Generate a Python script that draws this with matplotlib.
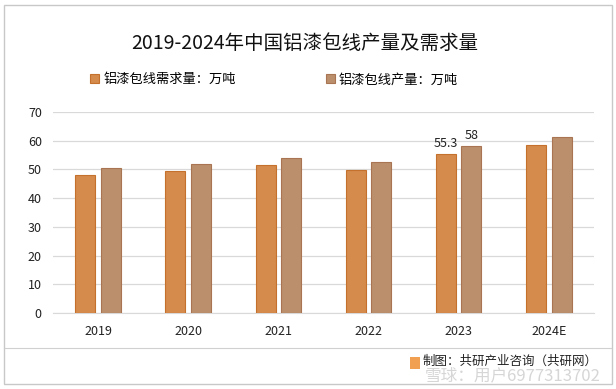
import matplotlib.pyplot as plt
import numpy as np
from matplotlib.patches import Rectangle

plt.rcParams['font.family'] = ['Noto Sans CJK SC', 'DejaVu Sans']

years = ['2019', '2020', '2021', '2022', '2023', '2024E']
demand = [48.1, 49.5, 51.5, 49.8, 55.3, 58.5]
production = [50.5, 51.9, 54.0, 52.6, 58.0, 61.3]
demand_name = '铝漆包线需求量：万吨'
production_name = '铝漆包线产量：万吨'
title = '2019-2024年中国铝漆包线产量及需求量'

fig = plt.figure(figsize=(6.16, 3.89), dpi=100)
ax = fig.add_axes([0.086, 0.1954, 0.878, 0.5166])

x = np.arange(len(years))
w = 0.222
off = 0.1415
b1 = ax.bar(x - off, demand, w, color='#D58B4C', edgecolor='#C4712E', linewidth=0.8,
            label=demand_name, zorder=3)
b2 = ax.bar(x + off, production, w, color='#BC8F6C', edgecolor='#A87451', linewidth=0.8,
            label=production_name, zorder=3)

# only 2023 values are labelled in the source
i = years.index('2023')
ax.text(x[i] - off, demand[i] + 1.6, f'{demand[i]:g}', ha='center', va='bottom', fontsize=9, color='#222222')
ax.text(x[i] + off, production[i] + 1.6, f'{production[i]:g}', ha='center', va='bottom', fontsize=9, color='#222222')

ax.set_xlim(-0.5, len(years) - 0.5)
ax.set_ylim(0, 70)
ax.set_yticks(range(0, 71, 10))
ax.set_xticks(x)
ax.set_xticklabels(years)
ax.grid(axis='y', color='#D9D9D9', linewidth=0.9, zorder=0)
for s in ['top', 'right', 'left']:
    ax.spines[s].set_visible(False)
ax.spines['bottom'].set_color('#D9D9D9')
ax.tick_params(axis='both', length=0, labelsize=9, colors='#222222')
ax.tick_params(axis='x', pad=9)
ax.tick_params(axis='y', pad=8)

fig.text(0.495, 0.889, title, ha='center', va='center', fontsize=14, color='#111111')
fig.legend(handles=[b1, b2], loc='center', bbox_to_anchor=(0.445, 0.795), ncol=2,
           frameon=False, fontsize=9.5, handlelength=0.7, handleheight=0.7,
           handletextpad=0.3, columnspacing=6.8)

# frame and footer
fig.add_artist(Rectangle((0.007, 0.012), 0.986, 0.976, transform=fig.transFigure,
                         fill=False, edgecolor='#C8C8C8', linewidth=1))
fig.add_artist(plt.Line2D([0.008, 0.992], [0.105, 0.105], transform=fig.transFigure,
                          color='#D0D0D0', linewidth=0.8))
fig.add_artist(Rectangle((0.666, 0.052), 0.016, 0.03, transform=fig.transFigure,
                         color='#F0A050', linewidth=0))
fig.text(0.97, 0.07, '制图：共研产业咨询（共研网）', ha='right', va='center', fontsize=9, color='#222222')
fig.text(0.975, 0.035, '雪球：用户6977313702', ha='right', va='center', fontsize=12,
         color='#BBBBBB', alpha=0.6)

fig.savefig('out.png', dpi=100)
